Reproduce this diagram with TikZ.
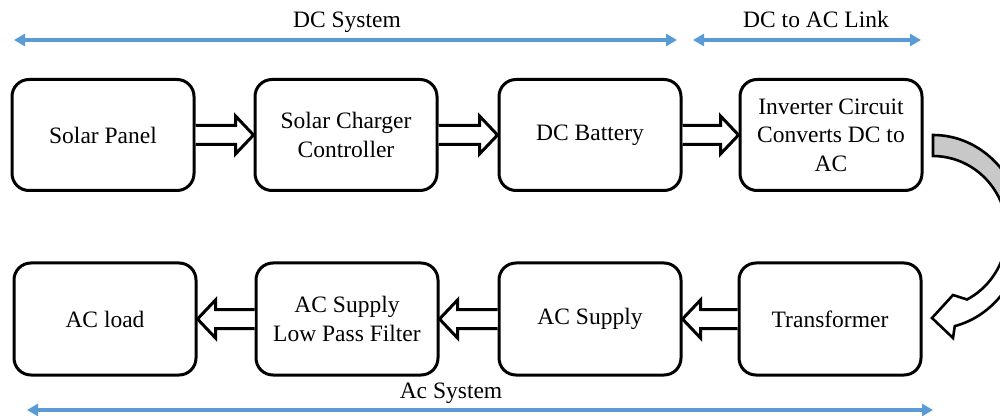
\documentclass[tikz,border=0pt]{standalone}
\usepackage{fontspec}
\setmainfont{Liberation Serif}
\usetikzlibrary{arrows.meta,calc}
\definecolor{spanblue}{HTML}{5B9BD5}
\definecolor{bandgray}{HTML}{C8C8C8}
\newcommand\blockfont{\fontsize{23.5}{28.5}\selectfont}
\tikzset{
  stage/.style={draw, line width=3pt, rounded corners=17pt, fill=white,
    minimum width=182pt, minimum height=111pt, align=center, font=\blockfont},
  hollow/.style={draw, fill=white, line width=3pt, line join=miter},
  span/.style={draw=spanblue, line width=4pt,
    {Triangle[length=11pt,width=12pt]}-{Triangle[length=11pt,width=12pt]}},
  spanlabel/.style={font=\blockfont, anchor=base, inner sep=0pt}
}
% thick outlined block arrow running horizontally from #1 to #2
\newcommand\hollowarrow[2]{%
  \draw[hollow] let \p1=(#1), \p2=(#2), \n1={(\x2-\x1)/abs(\x2-\x1)} in
    (\x1,\y1+9.5pt) -- ({\x2-\n1*18pt},\y1+9.5pt) -- ({\x2-\n1*18pt},\y1+19pt)
    -- (\x2,\y1) -- ({\x2-\n1*18pt},\y1-19pt) -- ({\x2-\n1*18pt},\y1-9.5pt)
    -- (\x1,\y1-9.5pt);}
\begin{document}
\begin{tikzpicture}[x=1pt,y=1pt]
\clip (0,0) rectangle (1000,415);

% DC side
\node[stage] (panel)    at (103,280) {Solar Panel};
\node[stage] (charger)  at (346,280) {Solar Charger\\Controller};
\node[stage] (battery)  at (590,280) {DC Battery};
\node[stage] (inverter) at (831,280) {Inverter Circuit\\Converts DC to\\AC};

% AC side
\node[stage, minimum height=112pt] (load)   at (105,96) {AC load};
\node[stage, minimum height=112pt] (filter) at (347,96) {AC Supply\\Low Pass Filter};
\node[stage, minimum height=112pt] (supply) at (590,96) {AC Supply};
\node[stage, minimum height=112pt] (trafo)  at (830,96) {Transformer};

\hollowarrow{panel.east}{charger.west}
\hollowarrow{charger.east}{battery.west}
\hollowarrow{battery.east}{inverter.west}
\hollowarrow{trafo.west}{supply.east}
\hollowarrow{supply.west}{filter.east}
\hollowarrow{filter.west}{load.east}

% curved arrow from the inverter down to the transformer
\def\bendpath{(933,280) arc[start angle=90, end angle=-76, x radius=90, y radius=97]
  -- (953,77) -- (932,97) -- (953,120) -- (967,115.5)
  arc[start angle=-62.6, end angle=90, x radius=74, y radius=76] -- cycle}
\fill[white] \bendpath;
\begin{scope}
  \clip (900,183) rectangle (1000,300);
  \fill[bandgray] \bendpath;
\end{scope}
\draw[line width=2.6pt, line join=miter] \bendpath;

% system spans
\coordinate (dcL) at (14,375);
\coordinate (dcR) at (677,375);
\coordinate (lkL) at (693,375);
\coordinate (lkR) at (921,375);
\coordinate (acL) at (27,5);
\coordinate (acR) at (933,5);
\draw[span] (dcL) -- (dcR);
\draw[span] (lkL) -- (lkR);
\draw[span] (acL) -- (acR);
\node[spanlabel] (dclabel) at (347,387) {DC System};
\node[spanlabel] (lklabel) at (816,387) {DC to AC Link};
\node[spanlabel] (aclabel) at (451,17) {Ac System};
\end{tikzpicture}
\end{document}
